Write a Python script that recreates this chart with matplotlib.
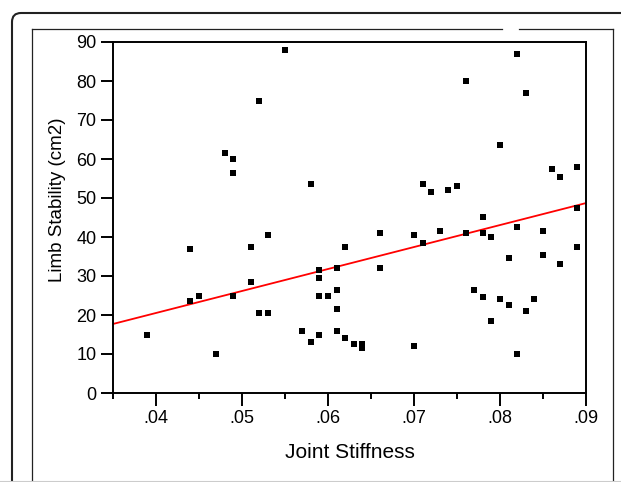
import numpy as np
import matplotlib
matplotlib.use("Agg")
import matplotlib.pyplot as plt
from matplotlib.patches import FancyBboxPatch
from matplotlib.lines import Line2D
from matplotlib.transforms import IdentityTransform
from matplotlib.ticker import MultipleLocator

plt.rcParams['font.family'] = ['Liberation Sans', 'DejaVu Sans']

# joint stiffness vs limb stability
stiffness = [0.039, 0.044, 0.044, 0.045, 0.047, 0.048, 0.049, 0.049, 0.049,
             0.051, 0.051, 0.052, 0.052, 0.053, 0.053, 0.055, 0.057, 0.058,
             0.058, 0.059, 0.059, 0.059, 0.059, 0.060, 0.061, 0.061, 0.061,
             0.061, 0.062, 0.062, 0.063, 0.064, 0.064, 0.066, 0.066, 0.070,
             0.070, 0.071, 0.071, 0.072, 0.073, 0.074, 0.075, 0.076, 0.076,
             0.077, 0.078, 0.078, 0.078, 0.079, 0.079, 0.080, 0.080, 0.081,
             0.081, 0.082, 0.082, 0.082, 0.083, 0.083, 0.084, 0.085, 0.085,
             0.086, 0.087, 0.087, 0.089, 0.089, 0.089]
stability = [15, 37, 23.5, 25, 10, 61.5, 60, 56.5, 25,
             37.5, 28.5, 75, 20.5, 40.5, 20.5, 88, 16, 53.5,
             13, 31.5, 29.5, 25, 15, 25, 32, 26.5, 21.5,
             16, 37.5, 14, 12.5, 12.5, 11.5, 41, 32, 40.5,
             12, 53.5, 38.5, 51.5, 41.5, 52, 53, 80, 41,
             26.5, 45, 41, 24.5, 40, 18.5, 63.5, 24, 34.5,
             22.5, 87, 42.5, 10, 77, 21, 24, 41.5, 35.5,
             57.5, 55.5, 33, 58, 47.5, 37.5]

# fitted line end points
fit_x = [0.035, 0.09]
fit_y = [17.7, 48.7]

W, H = 621, 482
fig = plt.figure(figsize=(W / 100, H / 100), dpi=100)
ax = fig.add_axes([113 / W, 1 - 393 / H, (586 - 113) / W, (393 - 42) / H])

ax.plot(fit_x, fit_y, color='red', lw=1.3, zorder=2)
ax.plot(stiffness, stability, 's', color='black', ms=4.2, mew=0, zorder=3)

ax.set_xlim(0.035, 0.09)
ax.set_ylim(0, 90)
ax.set_xticks([0.04, 0.05, 0.06, 0.07, 0.08, 0.09])
ax.set_xticklabels(['.04', '.05', '.06', '.07', '.08', '.09'])
ax.xaxis.set_minor_locator(MultipleLocator(0.005))
ax.set_yticks(range(0, 91, 10))

for s in ax.spines.values():
    s.set_linewidth(1.4)
ax.tick_params(which='major', length=9, width=1.4, labelsize=13, pad=3)
ax.tick_params(axis='x', which='minor', length=4, width=1.4)
ax.tick_params(axis='y', which='minor', length=0)

ax.set_xlabel('Joint Stiffness', fontsize=15)
ax.xaxis.set_label_coords(0.5, (393 - 452) / 351, transform=ax.transAxes)
ax.xaxis.label.set_va('center')
ax.set_ylabel('Limb Stability (cm2)', fontsize=13.5)
ax.yaxis.set_label_coords((57 - 113) / 473, (393 - 200) / 351)
ax.yaxis.label.set_va('center')

# frame decorations in pixel coordinates
ident = IdentityTransform()
outer = FancyBboxPatch((12, -20), 700, (H - 13) + 20,
                       boxstyle='round,pad=0,rounding_size=9',
                       fill=False, lw=1.5, ec='#222222', transform=ident)
fig.patches.append(outer)
inner = [([32, 32], [-5, H - 29]),
         ([32, 502], [H - 29, H - 29]),
         ([519, 613], [H - 29, H - 29]),
         ([613, 613], [H - 29, -5])]
for xs, ys in inner:
    fig.lines.append(Line2D(xs, ys, lw=0.9, color='#222222', transform=ident))
fig.lines.append(Line2D([0, W], [1, 1], lw=0.8, color='#cccccc', transform=ident))

plt.savefig('out.png', dpi=100)
